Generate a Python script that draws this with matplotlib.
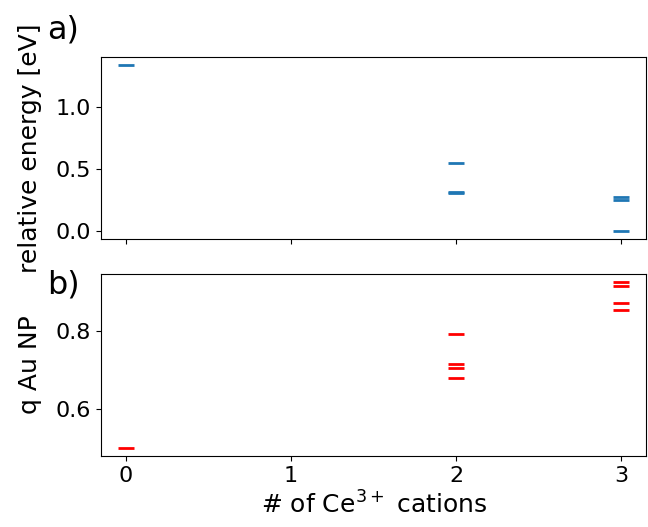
import matplotlib.pyplot as plt

# number of Ce3+ cations for each configuration
n_ce_a = [0, 2, 2, 2, 3, 3, 3]
rel_energy = [1.336, 0.545, 0.315, 0.305, 0.27, 0.25, 0.0]

n_ce_b = [0, 2, 2, 2, 2, 3, 3, 3, 3]
q_au = [0.50, 0.792, 0.716, 0.706, 0.678, 0.926, 0.916, 0.871, 0.855]

plt.rcParams['font.size'] = 16

fig, (ax1, ax2) = plt.subplots(2, 1, sharex=True, figsize=(6.48, 5.27), dpi=100)

ax1.plot(n_ce_a, rel_energy, linestyle='none', marker='_', markersize=11,
         markeredgewidth=2, color='tab:blue')
ax1.set_ylabel('relative energy [eV]', fontsize=18, labelpad=10)

ax2.plot(n_ce_b, q_au, linestyle='none', marker='_', markersize=11,
         markeredgewidth=2, color='red')
ax2.set_ylabel('q Au NP', fontsize=18, labelpad=10)
ax2.set_xlabel('# of Ce$^{3+}$ cations', fontsize=18)
ax2.set_xticks([0, 1, 2, 3])

fig.subplots_adjust(left=0.156, right=0.997, top=0.892, bottom=0.135, hspace=0.192)
fig.text(0.072, 0.943, 'a)', fontsize=23, va='center')
fig.text(0.072, 0.46, 'b)', fontsize=23, va='center')

plt.savefig('out.png', dpi=100)
